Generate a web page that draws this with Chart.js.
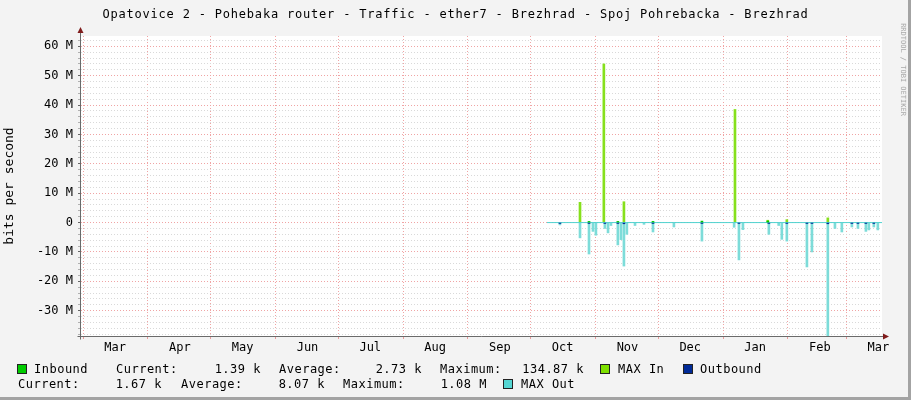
<!DOCTYPE html>
<html>
<head>
<meta charset="utf-8">
<script src="https://cdn.jsdelivr.net/npm/chart.js@4.4.1/dist/chart.umd.min.js"></script>
<style>
  body { margin: 0; background: #f3f3f3; }
  #wrap { position: relative; width: 911px; height: 400px; background: #f3f3f3; overflow: hidden;
          font-family: 'DejaVu Sans Mono', monospace; }
  canvas { position: absolute; left: 0; top: 0; }
  .t { position: absolute; white-space: pre; font-size: 12px; letter-spacing: 0.5px; line-height: 14px; color: #000; }
  .sq { position: absolute; width: 8px; height: 8px; border: 1px solid #222; }
  #title { position: absolute; left: 0; top: 7px; width: 911px; text-align: center; white-space: pre;
           font-size: 12px; letter-spacing: 0.8px; line-height: 14px; color: #000; }
  #brand { position: absolute; left: 855px; top: 65px; width: 94px; height: 9px; line-height: 9px;
           font-size: 7px; color: #a8a8a8; white-space: pre; text-align: center; transform: rotate(90deg); }
  #edgeR { position: absolute; left: 908px; top: 0; width: 3px; height: 400px; background: #a3a3a3; }
  #edgeB { position: absolute; left: 0; top: 397px; width: 911px; height: 3px; background: #a3a3a3; }
</style>
</head>
<body>
<div id="wrap">
  <canvas id="chart" width="911" height="400"></canvas>
  <div id="title">Opatovice 2 - Pohebaka router - Traffic - ether7 - Brezhrad - Spoj Pohrebacka - Brezhrad</div>
  <div id="brand">RRDTOOL / TOBI OETIKER</div>
  <div id="legend"></div>
  <div id="edgeR"></div>
  <div id="edgeB"></div>
</div>
<script>
// x = days since 1 Mar, y = bits per second (outbound drawn negative)
const monthLabels = ['Mar', 'Apr', 'May', 'Jun', 'Jul', 'Aug', 'Sep', 'Oct', 'Nov', 'Dec', 'Jan', 'Feb', 'Mar'];
const monthStarts = [0, 31, 61, 92, 122, 153, 184, 214, 245, 275, 306, 337, 365];

const maxInDays   = [237.6, 249.0, 258.6, 311.7, 327.4, 336.5, 356.1];
const maxInValues = [6.9e6, 54e6, 7.1e6, 38.5e6, 0.8e6, 1.0e6, 1.6e6];

const maxOutDays   = [228.0, 237.6, 241.9, 243.8, 245.2, 249.5, 251.0, 252.4, 255.7, 257.2, 258.6, 260.0,
                      263.9, 268.2, 272.5, 282.5, 295.9, 311.3, 313.6, 315.5, 327.9, 332.6, 334.1, 336.5,
                      346.1, 348.5, 356.1, 359.5, 362.8, 367.6, 370.5, 374.3, 375.7, 378.1, 380.0];
const maxOutValues = [-0.8e6, -5.2e6, -10.7e6, -3e6, -4.3e6, -2e6, -3.5e6, -1e6, -7.6e6, -5.8e6, -14.8e6, -4e6,
                      -1e6, -0.6e6, -3.2e6, -1.5e6, -6.3e6, -1.6e6, -12.7e6, -2.4e6, -4e6, -1e6, -5.7e6, -6.3e6,
                      -15.1e6, -10e6, -40e6, -2e6, -3.2e6, -1.5e6, -2e6, -3e6, -2.5e6, -1.5e6, -2.5e6];

const inDays   = [241.9, 255.7, 272.5, 295.9, 327.4];
const inValues = [0.4e6, 0.4e6, 0.4e6, 0.5e6, 0.5e6];

const outDays   = [228.0, 241.9, 249.5, 255.7, 258.6, 272.5, 295.9, 313.6, 327.9, 336.5,
                   346.1, 348.5, 356.1, 367.6, 370.5, 374.3, 378.1];
const outValues = [-0.3e6, -0.3e6, -0.3e6, -0.3e6, -0.4e6, -0.3e6, -0.3e6, -0.3e6, -0.3e6, -0.3e6,
                   -0.3e6, -0.3e6, -0.4e6, -0.3e6, -0.3e6, -0.3e6, -0.3e6];

const traceDays   = [221.8, 382];
const traceValues = [0, 0];

const inStats  = ['1.39 k', '2.73 k', '134.87 k'];
const outStats = ['1.67 k', '8.07 k', '1.08 M'];

const pts = (xs, ys) => xs.map((x, i) => ({ x: x, y: ys[i] }));
const isMajor = (v) => Math.round(v / 1e6) % 10 === 0;
const monoFont = { family: 'DejaVu Sans Mono', size: 12 };

// legend, laid out like the rrdtool one
const legend = document.getElementById('legend');
function put(html) { legend.insertAdjacentHTML('beforeend', html); }
function text(s, left, top) { put('<div class="t" style="left:' + left + 'px;top:' + top + 'px">' + s + '</div>'); }
function num(s, right, top) { put('<div class="t" style="right:' + (911 - right) + 'px;top:' + top + 'px">' + s + '</div>'); }
function box(color, left, top) { put('<div class="sq" style="left:' + left + 'px;top:' + top + 'px;background:' + color + '"></div>'); }

box('#00cc00', 17, 364); text('Inbound', 34, 362);
text('Current:', 116, 362); num(inStats[0], 261, 362);
text('Average:', 279, 362); num(inStats[1], 422, 362);
text('Maximum:', 440, 362); num(inStats[2], 584, 362);
box('#7ee000', 600, 364); text('MAX In', 618, 362);
box('#002a97', 683, 364); text('Outbound', 700, 362);
text('Current:', 18, 377); num(outStats[0], 162, 377);
text('Average:', 181, 377); num(outStats[1], 325, 377);
text('Maximum:', 343, 377); num(outStats[2], 487, 377);
box('#55d6d3', 503, 379); text('MAX Out', 521, 377);

const frame = {
  id: 'frame',
  beforeDraw(chart) {
    const { ctx, chartArea: a } = chart;
    ctx.save();
    ctx.fillStyle = '#ffffff';
    ctx.fillRect(a.left, a.top, a.right - a.left, a.bottom - a.top);
    ctx.restore();
  },
  afterDraw(chart) {
    const { ctx, chartArea: a } = chart;
    const x0 = Math.round(a.left) - 0.5;
    const y0 = Math.round(a.bottom) + 0.5;
    ctx.save();
    ctx.strokeStyle = '#6a6a6a';
    ctx.lineWidth = 1;
    ctx.beginPath();
    ctx.moveTo(x0, y0 + 3);
    ctx.lineTo(x0, a.top - 6);
    ctx.moveTo(x0 - 3, y0);
    ctx.lineTo(a.right + 4, y0);
    ctx.stroke();
    ctx.fillStyle = '#801c1c';
    ctx.beginPath();
    ctx.moveTo(x0, a.top - 9);
    ctx.lineTo(x0 - 3, a.top - 3);
    ctx.lineTo(x0 + 3, a.top - 3);
    ctx.closePath();
    ctx.fill();
    ctx.beginPath();
    ctx.moveTo(a.right + 7, y0);
    ctx.lineTo(a.right + 1, y0 - 3);
    ctx.lineTo(a.right + 1, y0 + 3);
    ctx.closePath();
    ctx.fill();
    ctx.restore();
  }
};

new Chart(document.getElementById('chart').getContext('2d'), {
  type: 'bar',
  data: {
    datasets: [
      { label: 'MAX In', data: pts(maxInDays, maxInValues), backgroundColor: '#86e01c',
        barThickness: 2, grouped: false, order: 5 },
      { label: 'MAX Out', data: pts(maxOutDays, maxOutValues), backgroundColor: '#7ddcd9',
        barThickness: 2, grouped: false, order: 4 },
      { type: 'line', label: 'MAX Out trace', data: pts(traceDays, traceValues), borderColor: '#4fd3d0',
        borderWidth: 1, pointRadius: 0, order: 3 },
      { label: 'Inbound', data: pts(inDays, inValues), backgroundColor: '#00cc00',
        barThickness: 2, grouped: false, order: 2 },
      { label: 'Outbound', data: pts(outDays, outValues), backgroundColor: '#002a97',
        barThickness: 2, grouped: false, order: 1 }
    ]
  },
  options: {
    responsive: false,
    animation: false,
    layout: { padding: { left: 0, top: 36, right: 29, bottom: 0 } },
    plugins: { legend: { display: false }, tooltip: { enabled: false } },
    scales: {
      x: {
        type: 'linear',
        offset: false,
        min: -1,
        max: 382,
        afterBuildTicks: (s) => { s.ticks = monthStarts.map((v) => ({ value: v })); },
        afterFit: (s) => { s.height = 64; },
        ticks: {
          autoSkip: false, maxRotation: 0, labelOffset: 32, padding: 2, color: '#000', font: monoFont,
          callback: (v, i) => monthLabels[i]
        },
        grid: { offset: false, color: '#f0a4a4', tickColor: '#e89a9a', tickLength: 3 },
        border: { display: false, dash: [1, 2] }
      },
      y: {
        min: -38.6e6,
        max: 63.5e6,
        afterBuildTicks: (s) => {
          const t = [];
          for (let v = -38e6; v <= 62e6; v += 2e6) t.push({ value: v });
          s.ticks = t;
        },
        afterFit: (s) => { s.width = 81; },
        ticks: {
          autoSkip: false, padding: 5, color: '#000', font: monoFont,
          callback: (v) => (isMajor(v) ? (v === 0 ? '0' : (v / 1e6) + ' M') : '')
        },
        grid: {
          color: (c) => (isMajor(c.tick.value) ? '#f0a4a4' : '#d9d9d9'),
          tickColor: (c) => (isMajor(c.tick.value) ? '#666666' : '#b0b0b0'),
          tickLength: 3
        },
        border: { display: false, dash: [1, 2] },
        title: { display: true, text: 'bits per second', color: '#000', font: { family: 'DejaVu Sans Mono', size: 13 },
                 padding: { top: 2, bottom: 0 } }
      }
    }
  },
  plugins: [frame]
});
</script>
</body>
</html>
